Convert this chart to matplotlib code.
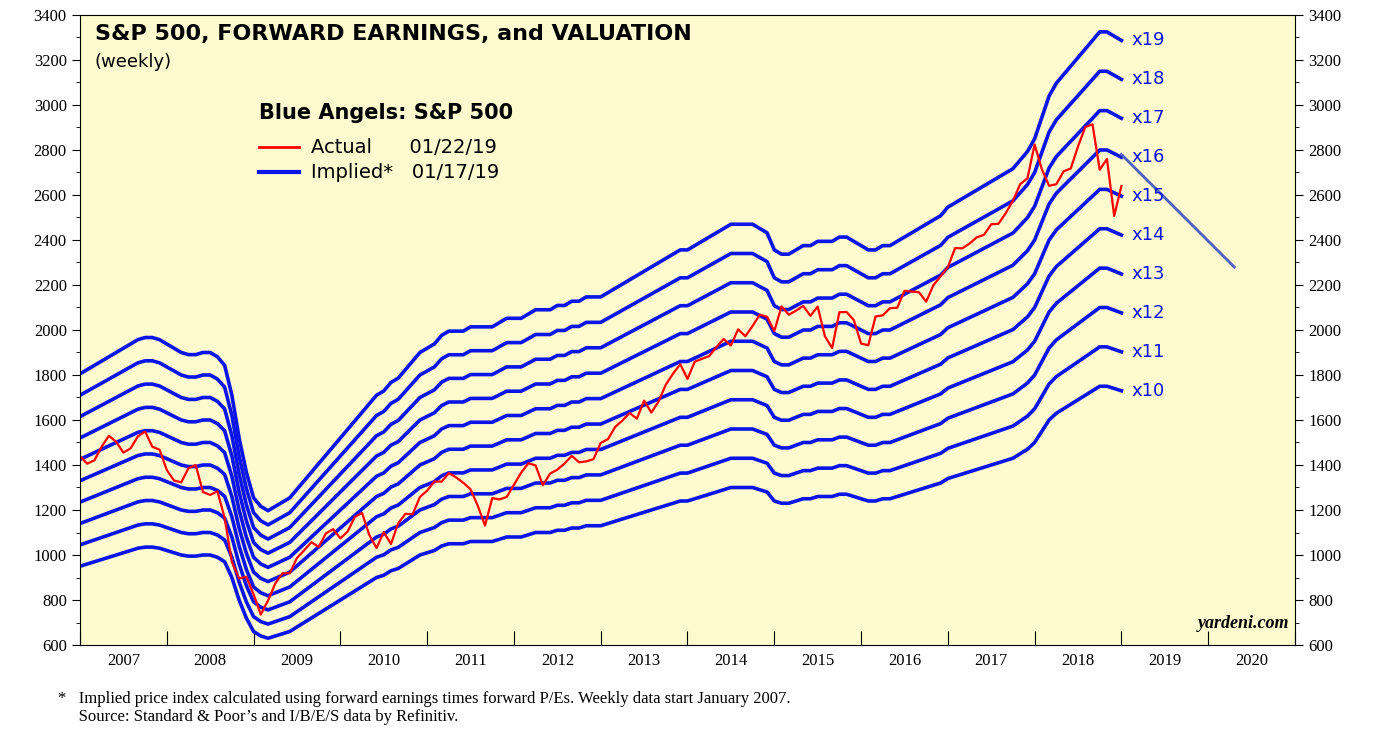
import numpy as np
import matplotlib.pyplot as plt
from matplotlib.ticker import MultipleLocator, FixedLocator, NullFormatter

# monthly forward earnings (S&P 500, $/share), Jan 2007 .. Jan 2019
fwd_eps = [95, 96, 97, 98, 99, 100, 101, 102, 103, 103.5, 103.5, 103,
           102, 101, 100, 99.5, 99.5, 100, 100, 99, 97, 90, 80, 72,
           66, 64, 63, 64, 65, 66, 68, 70, 72, 74, 76, 78,
           80, 82, 84, 86, 88, 90, 91, 93, 94, 96, 98, 100,
           101, 102, 104, 105, 105, 105, 106, 106, 106, 106, 107, 108,
           108, 108, 109, 110, 110, 110, 111, 111, 112, 112, 113, 113,
           113, 114, 115, 116, 117, 118, 119, 120, 121, 122, 123, 124,
           124, 125, 126, 127, 128, 129, 130, 130, 130, 130, 129, 128,
           124, 123, 123, 124, 125, 125, 126, 126, 126, 127, 127, 126,
           125, 124, 124, 125, 125, 126, 127, 128, 129, 130, 131, 132,
           134, 135, 136, 137, 138, 139, 140, 141, 142, 143, 145, 147,
           150, 155, 160, 163, 165, 167, 169, 171, 173, 175, 175, 174,
           173]

# monthly S&P 500 closes, Jan 2007 .. Jan 2019
sp500 = [1438, 1406, 1421, 1482, 1530, 1503, 1455, 1474, 1527, 1549, 1481, 1468,
         1378, 1331, 1323, 1386, 1400, 1280, 1267, 1283, 1165, 969, 896, 903,
         826, 735, 798, 873, 919, 919, 987, 1021, 1057, 1036, 1096, 1115,
         1074, 1104, 1169, 1187, 1089, 1031, 1102, 1049, 1141, 1183, 1181, 1258,
         1286, 1327, 1326, 1364, 1345, 1321, 1292, 1219, 1131, 1253, 1247, 1258,
         1312, 1366, 1408, 1398, 1310, 1362, 1379, 1407, 1441, 1412, 1416, 1426,
         1498, 1515, 1569, 1598, 1631, 1606, 1686, 1633, 1682, 1757, 1806, 1848,
         1783, 1859, 1872, 1884, 1924, 1960, 1931, 2003, 1972, 2018, 2068, 2059,
         1995, 2105, 2068, 2086, 2107, 2063, 2104, 1972, 1920, 2079, 2080, 2044,
         1940, 1932, 2060, 2065, 2097, 2099, 2174, 2171, 2168, 2126, 2199, 2239,
         2279, 2364, 2363, 2384, 2412, 2423, 2470, 2472, 2519, 2575, 2648, 2674,
         2824, 2714, 2641, 2648, 2705, 2718, 2816, 2902, 2914, 2712, 2760, 2507,
         2640]

multiples = list(range(10, 20))
blue_angel_x = [2019.0, 2020.3]
blue_angel_y = [2780, 2280]
years = list(range(2007, 2021))

t = 2007 + np.arange(len(fwd_eps)) / 12.0
eps = np.array(fwd_eps)

fig = plt.figure(figsize=(13.89, 7.47), dpi=100)
ax = fig.add_axes([80 / 1389, 1 - 645 / 747, 1215 / 1389, 630 / 747])
ax.set_facecolor("#fdfad0")

for m in multiples:
    ax.plot(t, eps * m, color="#0a14e6", lw=2.6)
    ax.text(t[-1] + 0.12, eps[-1] * m, f"x{m}", color="#0a14e6",
            fontsize=13, va="center", ha="left")
ax.plot(blue_angel_x, blue_angel_y, color="#5060c0", lw=2)
ax.plot(t, sp500, color="#ff0000", lw=1.6)

ax.set_xlim(2007, 2021)
ax.set_ylim(600, 3400)
ax.xaxis.set_major_locator(FixedLocator(years + [2021]))
ax.xaxis.set_major_formatter(NullFormatter())
ax.xaxis.set_minor_locator(FixedLocator([y + 0.5 for y in years]))
ax.set_xticklabels([str(y) for y in years], minor=True)
ax.tick_params(axis="x", which="major", length=10, direction="in")
ax.tick_params(axis="x", which="minor", length=0, labelsize=12, pad=6)
ax.yaxis.set_major_locator(MultipleLocator(200))
ax.yaxis.set_minor_locator(MultipleLocator(100))
ax.tick_params(axis="y", which="both", right=True, labelright=True,
               direction="out", labelsize=12)
ax.tick_params(axis="y", which="major", length=6)
ax.tick_params(axis="y", which="minor", length=3)
for lbl in ax.get_xticklabels(minor=True) + ax.get_yticklabels():
    lbl.set_fontfamily("Liberation Serif")

ax.text(0.012, 0.985, "S&P 500, FORWARD EARNINGS, and VALUATION", transform=ax.transAxes,
        fontsize=16, fontweight="bold", va="top")
ax.text(0.012, 0.94, "(weekly)", transform=ax.transAxes, fontsize=13, va="top")
ax.text(0.147, 0.845, "Blue Angels: S&P 500", transform=ax.transAxes,
        fontsize=15, fontweight="bold", va="center")
ax.plot([0.147, 0.18], [0.79, 0.79], transform=ax.transAxes, color="red", lw=2)
ax.plot([0.147, 0.18], [0.75, 0.75], transform=ax.transAxes, color="#0a14e6", lw=3)
ax.text(0.19, 0.79, "Actual      01/22/19", transform=ax.transAxes, fontsize=14, va="center")
ax.text(0.19, 0.75, "Implied*   01/17/19", transform=ax.transAxes, fontsize=14, va="center")
ax.text(0.995, 0.02, "yardeni.com", transform=ax.transAxes, fontsize=13,
        fontweight="bold", style="italic", family="Liberation Serif", ha="right", va="bottom")

fig.text(58 / 1389, 1 - 708 / 747,
         "*   Implied price index calculated using forward earnings times forward P/Es. Weekly data start January 2007.\n"
         "     Source: Standard & Poor\u2019s and I/B/E/S data by Refinitiv.",
         fontsize=12, family="Liberation Serif", va="center", linespacing=1.1)

fig.savefig("out.png", dpi=100)
